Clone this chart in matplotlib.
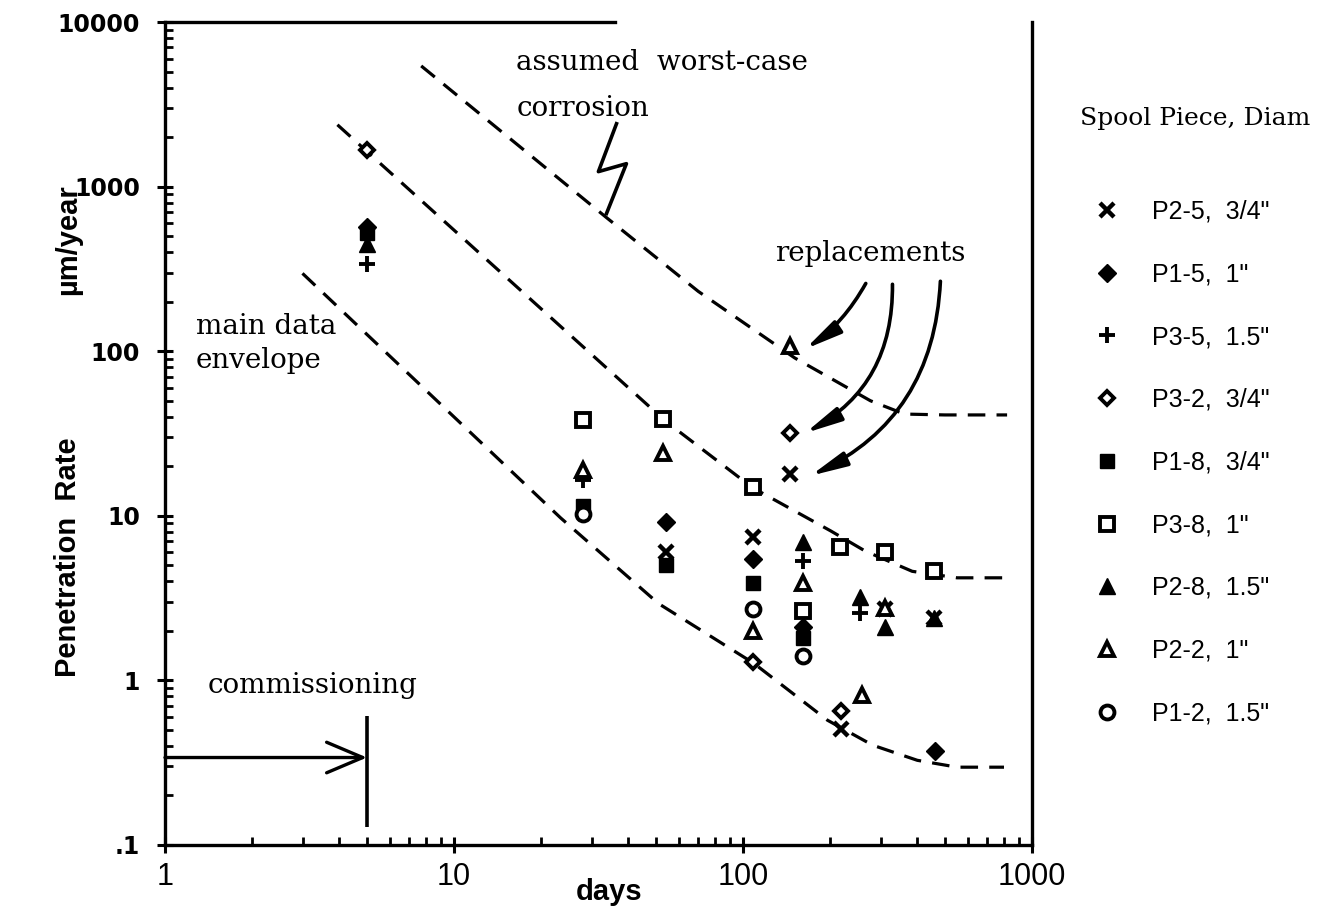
import numpy as np
import matplotlib.pyplot as plt
from matplotlib.ticker import FixedLocator, LogLocator, NullFormatter

# penetration rate (um/year) vs exposure time (days), per spool piece
p25_days = [54, 108, 145, 218, 309, 459]
p25_rate = [6.0, 7.4, 18, 0.51, 2.7, 2.4]
p15_days = [5, 54, 108, 161, 463]
p15_rate = [565, 9.2, 5.5, 2.1, 0.37]
p35_days = [5, 28, 161, 255]
p35_rate = [337, 16.5, 5.3, 2.55]
p32_days = [5, 108, 145, 218]
p32_rate = [1675, 1.3, 32, 0.65]
p18_days = [5, 28, 54, 108, 161]
p18_rate = [519, 11.5, 5.0, 3.9, 1.8]
p38_days = [28, 53, 108, 161, 216, 309, 459]
p38_rate = [38, 38.7, 15, 2.65, 6.5, 6.0, 4.6]
p28_days = [5, 161, 255, 309, 459]
p28_rate = [445, 6.95, 3.2, 2.1, 2.4]
p22_days = [28, 53, 108, 145, 161, 259, 309]
p22_rate = [19, 24, 2.0, 107, 3.9, 0.81, 2.75]
p12_days = [28, 108, 161]
p12_rate = [10.2, 2.7, 1.4]

labels = ['P2-5,  3/4"', 'P1-5,  1"', 'P3-5,  1.5"', 'P3-2,  3/4"', 'P1-8,  3/4"',
          'P3-8,  1"', 'P2-8,  1.5"', 'P2-2,  1"', 'P1-2,  1.5"']

# dashed envelope curves
worst_days = [7.7, 34, 70, 151, 276, 362, 500, 820]
worst_rate = [5410, 640, 231, 91, 50, 41.5, 41, 41]
upper_days = [3.95, 53.8, 108, 201, 265, 385, 550, 820]
upper_rate = [2375, 37.7, 14.8, 8.1, 6.1, 4.6, 4.2, 4.2]
lower_days = [2.99, 23.4, 51, 109, 196, 281, 401, 551, 800]
lower_rate = [297, 9.7, 2.93, 1.27, 0.573, 0.404, 0.327, 0.297, 0.297]

serif = 'DejaVu Serif'
sans = 'Liberation Sans'

fig = plt.figure(figsize=(13.26, 9.14), dpi=100)
ax = fig.add_axes([165/1326, 1 - 845/914, (1032 - 165)/1326, (845 - 22)/914])
ax.set_xscale('log')
ax.set_yscale('log')
ax.set_xlim(1, 1000)
ax.set_ylim(0.1, 10000)

for d, r in [(worst_days, worst_rate), (upper_days, upper_rate), (lower_days, lower_rate)]:
    ax.plot(d, r, color='k', lw=2.3, dashes=(5.5, 3.5))

k = 'black'
series = [
    (p25_days, p25_rate, dict(marker='x', ms=10, mew=3.2, color=k)),
    (p15_days, p15_rate, dict(marker='D', ms=9, color=k)),
    (p35_days, p35_rate, dict(marker='+', ms=12, mew=2.8, color=k)),
    (p32_days, p32_rate, dict(marker='D', ms=7.5, mew=2.8, mfc='white', mec=k)),
    (p18_days, p18_rate, dict(marker='s', ms=9.5, color=k)),
    (p38_days, p38_rate, dict(marker='s', ms=10, mew=2.8, mfc='white', mec=k)),
    (p28_days, p28_rate, dict(marker='^', ms=11, color=k)),
    (p22_days, p22_rate, dict(marker='^', ms=10, mew=2.8, mfc='white', mec=k)),
    (p12_days, p12_rate, dict(marker='o', ms=10, mew=2.8, mfc='white', mec=k)),
]
handles = []
for d, r, st in series:
    h, = ax.plot(d, r, linestyle='none', **st)
    handles.append(h)

# axes frame and ticks
for s in ['left', 'bottom', 'right', 'top']:
    ax.spines[s].set_linewidth(2.4)
ax.spines['top'].set_bounds(1, 36)
ax.xaxis.set_major_locator(FixedLocator([1, 10, 100, 1000]))
ax.xaxis.set_minor_locator(LogLocator(base=10, subs=np.arange(2, 10)))
ax.xaxis.set_minor_formatter(NullFormatter())
ax.set_xticklabels(['1', '10', '100', '1000'])
ax.yaxis.set_major_locator(FixedLocator([0.1, 1, 10, 100, 1000, 10000]))
ax.yaxis.set_minor_locator(LogLocator(base=10, subs=np.arange(2, 10)))
ax.yaxis.set_minor_formatter(NullFormatter())
ax.set_yticklabels(['.1', '1', '10', '100', '1000', '10000'])
ax.tick_params(which='major', direction='inout', length=12, width=2.2, top=False, right=False)
ax.tick_params(which='minor', direction='in', length=6, width=2, top=False, right=False)
ax.tick_params(axis='x', which='major', pad=6)
ax.tick_params(axis='y', which='major', pad=12)
for t in ax.get_xticklabels():
    t.set_family(['Liberation Sans Narrow', sans])
    t.set_fontsize(22)
for t in ax.get_yticklabels():
    t.set_family(['DejaVu Sans'])
    t.set_fontweight('bold')
    t.set_fontsize(17)

ax.set_xlabel('days', family=sans, fontsize=21, fontweight='bold')
ax.xaxis.set_label_coords(0.512, -0.040)
fig.text(68/1326, 1 - 557/914, 'Penetration  Rate', rotation=90, ha='center', va='center',
         fontsize=21, fontweight='bold', family=['Liberation Sans Narrow', sans])
fig.text(68/1326, 1 - 240/914, 'µm/year', rotation=90, ha='center', va='center',
         fontsize=21, fontweight='bold', family=['Liberation Sans Narrow', sans])

# annotations
tk = dict(family=serif, fontsize=20, va='baseline')
ax.text(16.4, 5120, 'assumed  worst-case', **tk)
ax.text(16.5, 2692, 'corrosion', **tk)
ax.text(129, 351, 'replacements', **tk)
ax.text(1.28, 127, 'main data', **tk)
ax.text(1.28, 79, 'envelope', **tk)
ax.text(1.41, 0.834, 'commissioning', **tk)

# lightning-bolt pointer to the worst-case line
ax.plot([36.5, 31.6, 39.5, 33.7], [2410, 1233, 1378, 686], color='k', lw=2.6,
        solid_joinstyle='round')

# replacement arrows
arr = dict(arrowstyle='-|>,head_length=1.1,head_width=0.22', color='k', lw=2.6,
           shrinkA=0, shrinkB=0, mutation_scale=20)
ax.annotate('', xy=(164, 103), xytext=(266, 258),
            arrowprops=dict(connectionstyle='arc3,rad=-0.12', **arr))
ax.annotate('', xy=(164, 31.8), xytext=(329, 255),
            arrowprops=dict(connectionstyle='arc3,rad=-0.3', **arr))
ax.annotate('', xy=(171, 17.5), xytext=(482, 266),
            arrowprops=dict(connectionstyle='arc3,rad=-0.3', **arr))

# commissioning arrow
ax.annotate('', xy=(5, 0.34), xytext=(1, 0.34),
            arrowprops=dict(arrowstyle='->,head_length=1.3,head_width=0.55', color='k',
                            lw=2.4, shrinkA=0, shrinkB=0, mutation_scale=20))
ax.vlines(5, 0.128, 0.61, color='k', lw=2.6)

# legend
fig.text(1080/1326, 1 - 125/914, 'Spool Piece, Diam', family=serif, fontsize=18,
         va='baseline')
fig.legend(handles, labels, loc='center left', bbox_to_anchor=(1094/1326, 1 - 462.5/914),
           frameon=False, prop=dict(family=sans, size=18), handlelength=1.0,
           handletextpad=1.3, labelspacing=1.55, borderpad=0, borderaxespad=0,
           numpoints=1)

fig.savefig('out.png', dpi=100)
